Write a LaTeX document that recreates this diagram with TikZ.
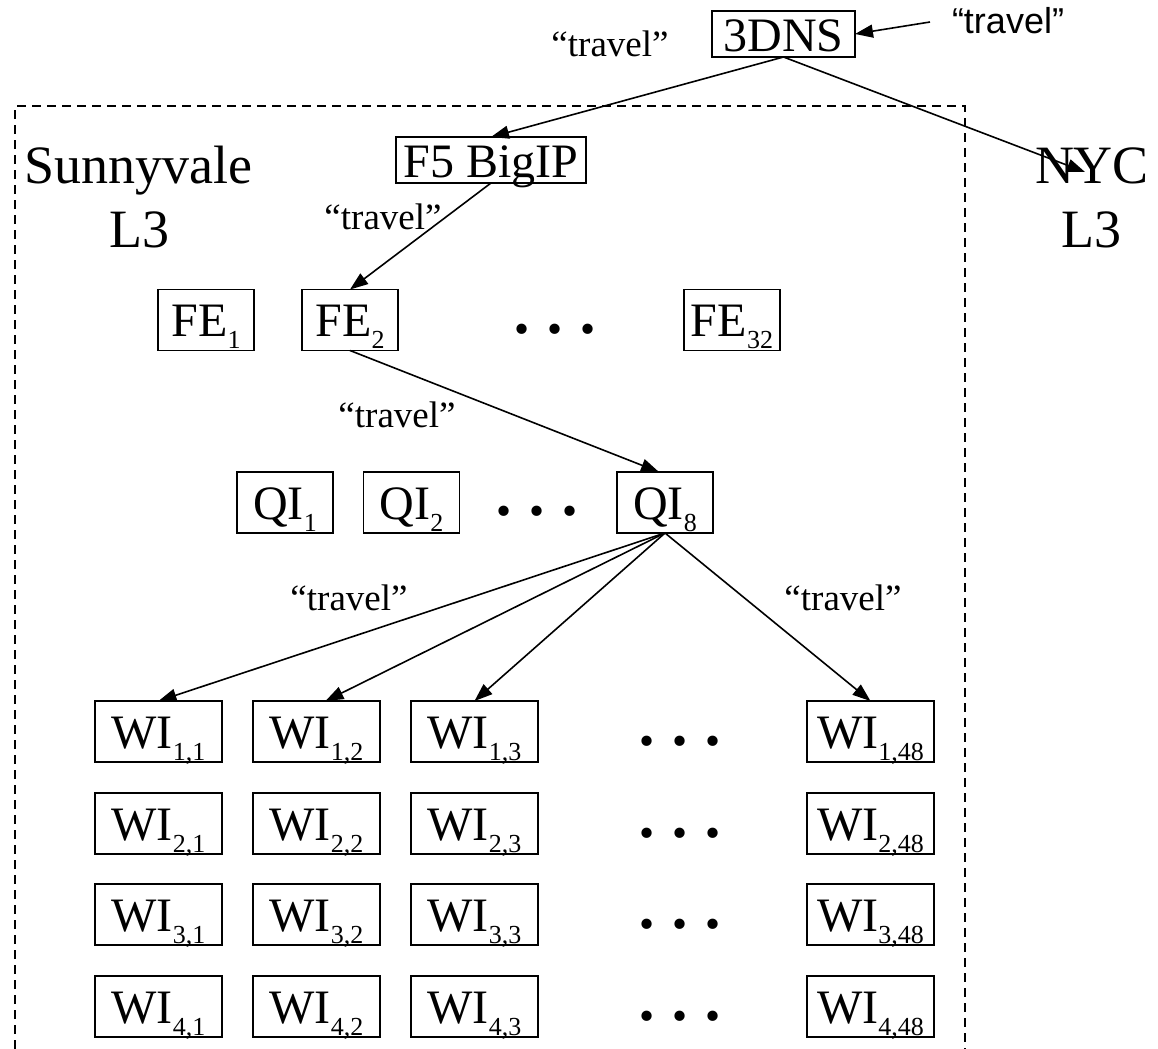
\documentclass[tikz,border=0pt]{standalone}
\usepackage{fontspec}
\setmainfont{Liberation Serif}
\newfontfamily\sansf{Liberation Sans}
\usetikzlibrary{arrows.meta}
\newcommand{\lsub}[1]{\raisebox{-6pt}{\fontsize{13}{14}\selectfont #1}}
\begin{document}
\begin{tikzpicture}[x=0.5pt,y=-0.5pt,
  every node/.style={inner sep=0pt, outer sep=0pt},
  lab/.style={font=\fontsize{24}{26}\selectfont},
  sbox/.style={draw, line width=0.8pt, lab, minimum width=48pt, minimum height=30.5pt, text height=23.5pt, text depth=7pt},
  wbox/.style={sbox, minimum width=63.5pt},
  tbox/.style={draw, line width=0.8pt, lab, minimum height=23pt, text height=20pt, text depth=3pt},
  place/.style={font=\fontsize{27}{29}\selectfont, anchor=base},
  trav/.style={font=\fontsize{18.5}{20}\selectfont, anchor=base},
  strav/.style={font=\sansf\fontsize{18}{20}\selectfont, anchor=base},
  dotsn/.style={font=\fontsize{21.5}{24}\selectfont, anchor=base},
  arr/.style={line width=0.8pt, -{Triangle[length=9pt,width=6.5pt]}},
  region/.style={dash pattern=on 4.5pt off 3pt, line width=0.8pt}
]
\useasboundingbox (0,0) rectangle (1158,1049);

% dashed site region
\draw[region] (15,1049) -- (15,106) -- (965,106) -- (965,1049);

% region labels
\node[place] (sv) at (138,183) {Sunnyvale};
\node[place] (svl) at (139,247) {L3};
\node[place] (nyc) at (1092,183) {NYC};
\node[place] (nycl) at (1091,247) {L3};

% top boxes
\node[tbox, minimum width=71.5pt] (dns) at (783.5,34) {3DNS};
\node[tbox, minimum width=95pt] (f5) at (491,160) {F5 BigIP};

% FE row
\node[sbox] (fe1) at (206,320) {FE\lsub{1}};
\node[sbox] (fe2) at (350,320) {FE\lsub{2}};
\node[dotsn] (fed) at (555,343) {•\hspace{0.42em}•\hspace{0.42em}•};
\node[sbox] (fe32) at (732,320) {FE\lsub{32}};

% QI row
\node[sbox] (qi1) at (285,502.5) {QI\lsub{1}};
\node[sbox] (qi2) at (411.5,502.5) {QI\lsub{2}};
\node[dotsn] (qid) at (537,525.5) {•\hspace{0.42em}•\hspace{0.42em}•};
\node[sbox] (qi8) at (665,502.5) {QI\lsub{8}};

% WI grid
\foreach \r/\y in {1/731.5,2/823.5,3/914.5,4/1006.5}{
  \node[wbox] (w\r1) at (158.5,\y) {WI\lsub{\r,1}};
  \node[wbox] (w\r2) at (316.5,\y) {WI\lsub{\r,2}};
  \node[wbox] (w\r3) at (474.5,\y) {WI\lsub{\r,3}};
  \node[dotsn] (wd\r) at (680,\y+23.5) {•\hspace{0.42em}•\hspace{0.42em}•};
  \node[wbox] (w\r48) at (870.5,\y) {WI\lsub{\r,48}};
}

% labels
\node[strav] (t0) at (1008,33) {“travel”};
\node[trav] (t1) at (610,56) {“travel”};
\node[trav] (t2) at (383,229) {“travel”};
\node[trav] (t3) at (397,427) {“travel”};
\node[trav] (t4) at (349,610) {“travel”};
\node[trav] (t5) at (843,610) {“travel”};

% connectors
\coordinate (in) at (930,22);
\coordinate (nyctip) at (1085,172);
\draw[arr] (in) -- (dns.east);
\draw[arr] (dns.south) -- (f5.north);
\draw[arr] (dns.south) -- (nyctip);
\draw[arr] (f5.south) -- (fe2.north);
\draw[arr] (fe2.south) -- ([xshift=-3pt]qi8.north);
\draw[arr] (qi8.south) -- (w11.north);
\draw[arr] (qi8.south) -- ([xshift=4.5pt]w12.north);
\draw[arr] (qi8.south) -- (w13.north);
\draw[arr] (qi8.south) -- (w148.north);
\end{tikzpicture}
\end{document}
